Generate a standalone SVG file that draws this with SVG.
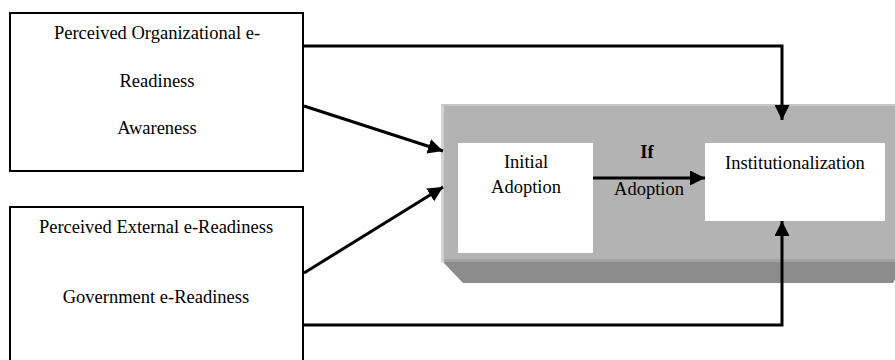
<svg xmlns="http://www.w3.org/2000/svg" width="895" height="360" viewBox="0 0 895 360">
<style>
  text { font-family: "Liberation Serif", "Times New Roman", serif; font-size: 18.5px; fill: #000; text-anchor: middle; }
  .box { fill: #fff; stroke: #000; stroke-width: 2; }
  .inner { fill: #fff; stroke: none; }
  .conn { fill: none; stroke: #000; stroke-width: 3; }
</style>
<defs>
  <marker id="ah" markerWidth="5" markerHeight="5" refX="5" refY="2.5" orient="auto" markerUnits="strokeWidth">
    <path d="M0,0 L5,2.5 L0,5 Z" fill="#000"/>
  </marker>
</defs>
<g id="stage">
  <polygon points="443,262 905,262 893,283 463,283" fill="#8c8c8c"/>
  <rect x="443" y="105" width="460" height="157" fill="#b3b3b3"/>
  <rect x="443" y="259" width="460" height="3" fill="#a3a3a3"/>
  <rect x="441" y="105" width="3" height="157" fill="#d2d2d2"/>
  <rect x="441" y="104" width="462" height="2" fill="#c6c6c6"/>
</g>
<g id="org">
  <rect class="box" x="10" y="13" width="293" height="158"/>
  <text x="157" y="39">Perceived Organizational e-</text>
  <text x="157" y="87">Readiness</text>
  <text x="157" y="134">Awareness</text>
</g>
<g id="ext">
  <rect class="box" x="10" y="207" width="293" height="160"/>
  <text x="156" y="233">Perceived External e-Readiness</text>
  <text x="156" y="303">Government e-Readiness</text>
</g>
<g id="initial">
  <rect class="inner" x="458" y="143" width="135" height="110"/>
  <text x="526" y="168">Initial</text>
  <text x="526" y="193">Adoption</text>
</g>
<g id="inst">
  <rect class="inner" x="705" y="143" width="180" height="78"/>
  <text x="795" y="169">Institutionalization</text>
</g>
<g id="connectors">
  <polyline class="conn" points="303,46 782,46 782,120" marker-end="url(#ah)"/>
  <polyline class="conn" points="303,325 782,325 782,221" marker-end="url(#ah)"/>
  <line class="conn" x1="304" y1="106" x2="443" y2="151" marker-end="url(#ah)"/>
  <line class="conn" x1="304" y1="273" x2="443" y2="187" marker-end="url(#ah)"/>
  <line class="conn" x1="593" y1="178" x2="705" y2="178" marker-end="url(#ah)"/>
  <text x="647" y="158" font-weight="bold">If</text>
  <text x="649" y="195">Adoption</text>
</g>
</svg>
